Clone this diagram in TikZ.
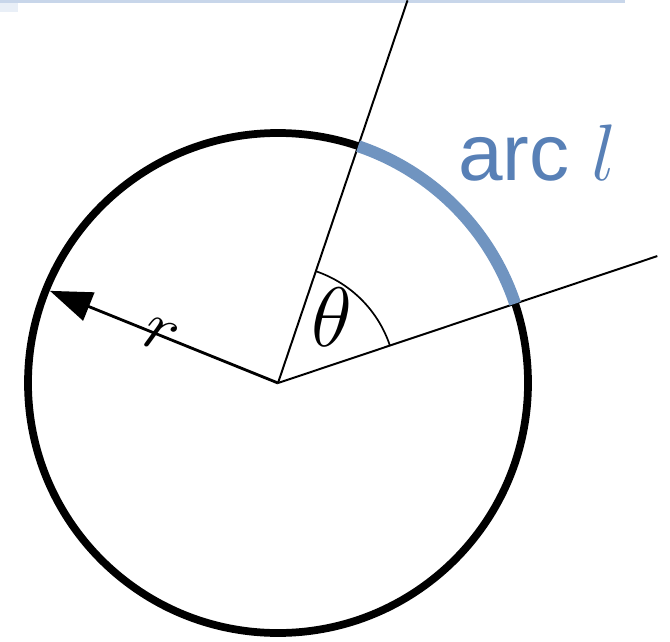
\documentclass[tikz,border=0pt]{standalone}
\usepackage{fix-cm}
\usepackage{fontspec}
\newfontfamily\arcfont{Liberation Sans}
\usetikzlibrary{arrows.meta,positioning,calc}
\definecolor{arcblue}{RGB}{112,148,192}
\definecolor{labelblue}{RGB}{88,128,182}
\definecolor{barblue}{RGB}{200,214,234}

\begin{document}
\begin{tikzpicture}[
    x=0.025cm, y=0.025cm,
    rim/.style={line width=5.5pt, black},
    ray/.style={line width=1.4pt, black},
    arcband/.style={line width=8.5pt, arcblue},
    radius arrow/.style={-{Triangle[length=1.05cm, width=0.75cm]}, line width=2pt}
  ]
  \useasboundingbox (0,0) rectangle (670,641);
  % top bar
  \fill[barblue] (0,638) rectangle (625,641);
  \fill[barblue!40] (0,629) rectangle (18,638);

  \coordinate (O) at (278,258);
  \coordinate (top) at ($(O)+(71.3:404)$);
  \coordinate (right) at ($(O)+(18.5:400)$);
  \coordinate (rim left) at ($(O)+(158:246)$);

  \draw[rim] (O) circle (250);
  \draw[ray] (O) -- (top);
  \draw[ray] (O) -- (right);
  \draw[arcband] ($(O)+(18.5:250)$) arc[start angle=18.5, end angle=71.3, radius=250];
  \draw[ray, line width=1.2pt] ($(O)+(18.5:118)$) arc[start angle=18.5, end angle=71.3, radius=118];
  \draw[radius arrow] (O) -- node[sloped, pos=0.515, inner sep=0pt, font=\fontsize{50}{52}\selectfont] (rlabel) {$r$} (rim left);

  \node[font=\fontsize{60}{62}\selectfont] (theta) at (332,324) {$\theta$};
  \node[anchor=base west, inner sep=0pt, text=labelblue, font=\fontsize{57}{60}\selectfont] (arclabel) at (458,461) {\arcfont arc $l$};
\end{tikzpicture}
\end{document}
